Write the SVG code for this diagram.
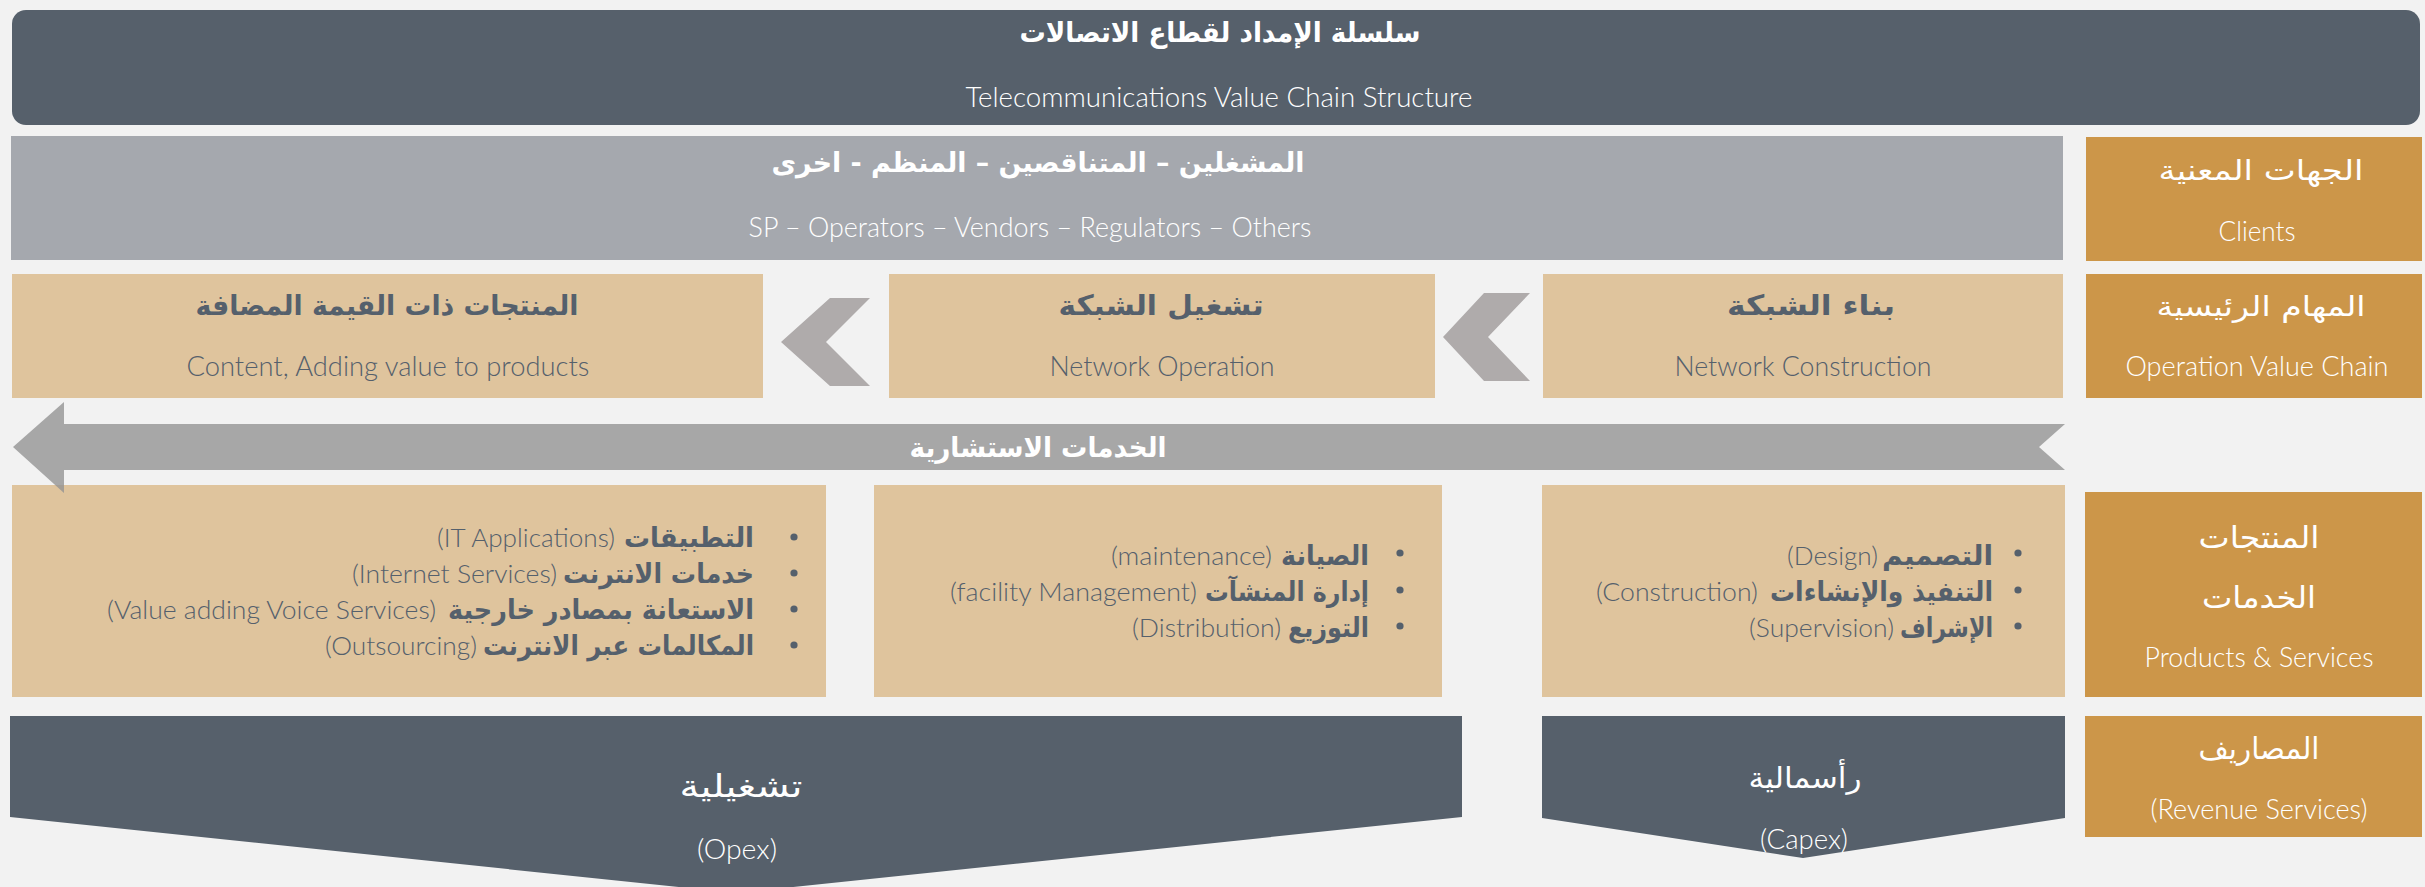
<svg xmlns="http://www.w3.org/2000/svg" width="2425" height="887" viewBox="0 0 2425 887">
<style>
.dark{fill:#56606b}
.gray{fill:#a5a8ae}
.gold{fill:#cc9649}
.tan{fill:#dfc49d}
.chev{fill:#afabab}
.en{font-family:Lato,'Liberation Sans',sans-serif;font-weight:300}
.ar{font-family:'DejaVu Sans',sans-serif}
.b{font-weight:bold}
.w{fill:#ffffff}
.d{fill:#55606c}
.m{text-anchor:middle}
.e{text-anchor:end}
.bul{fill:#55606c}
</style>
<rect x="0" y="0" width="2425" height="887" fill="#f2f2f2"/>

<g id="title">
<rect class="dark" x="12" y="10" width="2408" height="115" rx="14"/>
<text class="ar b w m" x="1220" y="42" font-size="28" textLength="401" lengthAdjust="spacingAndGlyphs">سلسلة الإمداد لقطاع الاتصالات</text>
<text class="en w m" x="1219" y="107" font-size="27" textLength="507" lengthAdjust="spacingAndGlyphs">Telecommunications Value Chain Structure</text>
</g>

<g id="parties">
<rect class="gray" x="11" y="136" width="2052" height="124"/>
<text class="ar b w m" x="1038" y="172" font-size="27" textLength="533" lengthAdjust="spacingAndGlyphs">المشغلين – المتناقصين – المنظم - اخرى</text>
<text class="en w m" x="1030" y="237" font-size="27" textLength="563" lengthAdjust="spacingAndGlyphs">SP – Operators – Vendors – Regulators – Others</text>
</g>

<g id="label-clients">
<rect class="gold" x="2086" y="137" width="336" height="124"/>
<text class="ar w m" x="2261" y="180" font-size="28" textLength="205" lengthAdjust="spacingAndGlyphs">الجهات المعنية</text>
<text class="en w m" x="2257" y="241" font-size="27" textLength="77" lengthAdjust="spacingAndGlyphs">Clients</text>
</g>

<g id="value-added">
<rect class="tan" x="12" y="274" width="751" height="124"/>
<text class="ar b d m" x="387" y="315" font-size="28" textLength="383" lengthAdjust="spacingAndGlyphs">المنتجات ذات القيمة المضافة</text>
<text class="en d m" x="388" y="376" font-size="27" textLength="403" lengthAdjust="spacingAndGlyphs">Content, Adding value to products</text>
</g>

<g id="network-operation">
<rect class="tan" x="889" y="274" width="546" height="124"/>
<text class="ar b d m" x="1161" y="315" font-size="28" textLength="205" lengthAdjust="spacingAndGlyphs">تشغيل الشبكة</text>
<text class="en d m" x="1162" y="376" font-size="27" textLength="225" lengthAdjust="spacingAndGlyphs">Network Operation</text>
</g>

<g id="network-construction">
<rect class="tan" x="1543" y="274" width="520" height="124"/>
<text class="ar b d m" x="1811" y="315" font-size="28" textLength="168" lengthAdjust="spacingAndGlyphs">بناء الشبكة</text>
<text class="en d m" x="1803" y="376" font-size="27" textLength="257" lengthAdjust="spacingAndGlyphs">Network Construction</text>
</g>

<g id="label-operation">
<rect class="gold" x="2086" y="274" width="336" height="124"/>
<text class="ar w m" x="2261" y="316" font-size="28" textLength="209" lengthAdjust="spacingAndGlyphs">المهام الرئيسية</text>
<text class="en w m" x="2257" y="376" font-size="27" textLength="263" lengthAdjust="spacingAndGlyphs">Operation Value Chain</text>
</g>

<g id="box-services">
<rect class="tan" x="12" y="485" width="814" height="212"/>
<circle class="bul" cx="794" cy="537" r="3.6"/>
<circle class="bul" cx="794" cy="573" r="3.6"/>
<circle class="bul" cx="794" cy="609" r="3.6"/>
<circle class="bul" cx="794" cy="645" r="3.6"/>
<text class="ar b d e" x="754" y="547" font-size="27" textLength="130" lengthAdjust="spacingAndGlyphs">التطبيقات</text>
<text class="en d e" x="615" y="547" font-size="25" textLength="178" lengthAdjust="spacingAndGlyphs">(IT Applications)</text>
<text class="ar b d e" x="754" y="583" font-size="27" textLength="191" lengthAdjust="spacingAndGlyphs">خدمات الانترنت</text>
<text class="en d e" x="557" y="583" font-size="25" textLength="205" lengthAdjust="spacingAndGlyphs">(Internet Services)</text>
<text class="ar b d e" x="754" y="619" font-size="27" textLength="306" lengthAdjust="spacingAndGlyphs">الاستعانة بمصادر خارجية</text>
<text class="en d e" x="436" y="619" font-size="25" textLength="329" lengthAdjust="spacingAndGlyphs">(Value adding Voice Services)</text>
<text class="ar b d e" x="754" y="655" font-size="27" textLength="271" lengthAdjust="spacingAndGlyphs">المكالمات عبر الانترنت</text>
<text class="en d e" x="477" y="655" font-size="25" textLength="152" lengthAdjust="spacingAndGlyphs">(Outsourcing)</text>
</g>

<g id="box-operation">
<rect class="tan" x="874" y="485" width="568" height="212"/>
<circle class="bul" cx="1400" cy="553" r="3.6"/>
<circle class="bul" cx="1400" cy="590" r="3.6"/>
<circle class="bul" cx="1400" cy="626" r="3.6"/>
<text class="ar b d e" x="1369" y="565" font-size="27" textLength="88" lengthAdjust="spacingAndGlyphs">الصيانة</text>
<text class="en d e" x="1272" y="565" font-size="25" textLength="161" lengthAdjust="spacingAndGlyphs">(maintenance)</text>
<text class="ar b d e" x="1369" y="601" font-size="27" textLength="164" lengthAdjust="spacingAndGlyphs">إدارة المنشآت</text>
<text class="en d e" x="1197" y="601" font-size="25" textLength="247" lengthAdjust="spacingAndGlyphs">(facility Management)</text>
<text class="ar b d e" x="1369" y="637" font-size="27" textLength="81" lengthAdjust="spacingAndGlyphs">التوزيع</text>
<text class="en d e" x="1281" y="637" font-size="25" textLength="149" lengthAdjust="spacingAndGlyphs">(Distribution)</text>
</g>

<g id="box-construction">
<rect class="tan" x="1542" y="485" width="523" height="212"/>
<circle class="bul" cx="2018" cy="553" r="3.6"/>
<circle class="bul" cx="2018" cy="590" r="3.6"/>
<circle class="bul" cx="2018" cy="626" r="3.6"/>
<text class="ar b d e" x="1993" y="565" font-size="27" textLength="111" lengthAdjust="spacingAndGlyphs">التصميم</text>
<text class="en d e" x="1878" y="565" font-size="25" textLength="91" lengthAdjust="spacingAndGlyphs">(Design)</text>
<text class="ar b d e" x="1993" y="601" font-size="27" textLength="223" lengthAdjust="spacingAndGlyphs">التنفيذ والإنشاءات</text>
<text class="en d e" x="1758" y="601" font-size="25" textLength="162" lengthAdjust="spacingAndGlyphs">(Construction)</text>
<text class="ar b d e" x="1993" y="637" font-size="27" textLength="93" lengthAdjust="spacingAndGlyphs">الإشراف</text>
<text class="en d e" x="1894" y="637" font-size="25" textLength="145" lengthAdjust="spacingAndGlyphs">(Supervision)</text>
</g>

<g id="label-products">
<rect class="gold" x="2085" y="492" width="337" height="205"/>
<text class="ar w m" x="2259" y="548" font-size="30" textLength="121" lengthAdjust="spacingAndGlyphs">المنتجات</text>
<text class="ar w m" x="2259" y="608" font-size="30" textLength="114" lengthAdjust="spacingAndGlyphs">الخدمات</text>
<text class="en w m" x="2259" y="667" font-size="27" textLength="229" lengthAdjust="spacingAndGlyphs">Products &amp; Services</text>
</g>

<g id="opex">
<polygon class="dark" points="10,716 1462,716 1462,817 736,893 10,817"/>
<text class="ar w m" x="741" y="797" font-size="31" textLength="123" lengthAdjust="spacingAndGlyphs">تشغيلية</text>
<text class="en w m" x="737" y="859" font-size="27" textLength="80" lengthAdjust="spacingAndGlyphs">(Opex)</text>
</g>

<g id="capex">
<polygon class="dark" points="1542,716 2065,716 2065,818 1803,858 1542,818"/>
<text class="ar w m" x="1805" y="788" font-size="29" textLength="113" lengthAdjust="spacingAndGlyphs">رأسمالية</text>
<text class="en w m" x="1804" y="849" font-size="27" textLength="88" lengthAdjust="spacingAndGlyphs">(Capex)</text>
</g>

<g id="label-expenses">
<rect class="gold" x="2085" y="716" width="337" height="121"/>
<text class="ar w m" x="2259" y="759" font-size="30" textLength="121" lengthAdjust="spacingAndGlyphs">المصاريف</text>
<text class="en w m" x="2259" y="819" font-size="27" textLength="217" lengthAdjust="spacingAndGlyphs">(Revenue Services)</text>
</g>

<g id="connectors">
<polygon class="chev" points="830,298 870,298 826,342 870,386 830,386 781,342"/>
<polygon class="chev" points="1484,293 1530,293 1488,337 1530,381 1484,381 1443,337"/>
<polygon fill="#939393" fill-opacity="0.8" points="13,447 64,402 64,424 2065,424 2039,447 2065,470 64,470 64,493"/>
<text class="ar b w m" x="1038" y="457" font-size="28" textLength="257" lengthAdjust="spacingAndGlyphs">الخدمات الاستشارية</text>
</g>
</svg>
